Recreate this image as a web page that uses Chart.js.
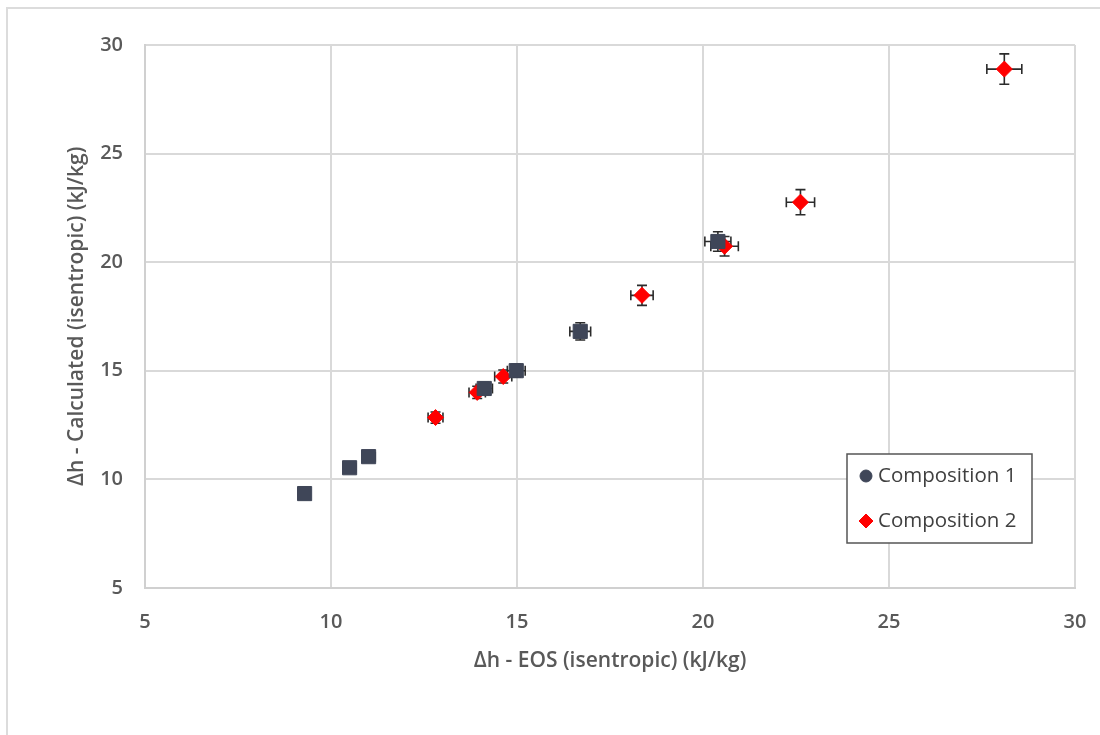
<!DOCTYPE html>
<html>
<head>
<meta charset="utf-8">
<script src="https://cdn.jsdelivr.net/npm/chart.js@4"></script>
<style>
  html, body { margin: 0; padding: 0; background: #fff; overflow: hidden; }
  #wrap { position: relative; width: 1100px; height: 735px; }
  #frame { position: absolute; left: 6px; top: 7px; width: 1200px; height: 800px;
           border: 2px solid #dcdcdc; pointer-events: none; }
</style>
</head>
<body>
<div id="wrap">
  <canvas id="grafico" width="1100" height="735"></canvas>
  <div id="frame"></div>
</div>
<script>
const ctx = document.getElementById('grafico').getContext('2d');

// Composition 1
const comp1X = [9.29, 10.50, 11.01, 14.12, 14.98, 16.70, 20.40];
const comp1Y = [9.34, 10.53, 11.04, 14.18, 15.00, 16.81, 20.95];
const comp1ErrX = [0.15, 0.17, 0.18, 0.22, 0.24, 0.28, 0.35];
const comp1ErrY = [0.19, 0.21, 0.22, 0.28, 0.30, 0.40, 0.45];

// Composition 2
const comp2X = [12.81, 13.93, 14.63, 18.36, 20.58, 22.62, 28.10];
const comp2Y = [12.84, 14.00, 14.73, 18.47, 20.73, 22.76, 28.89];
const comp2ErrX = [0.20, 0.22, 0.23, 0.30, 0.37, 0.38, 0.47];
const comp2ErrY = [0.26, 0.28, 0.30, 0.46, 0.45, 0.58, 0.70];

const eixoMin = 5;
const eixoMax = 30;
const eixoPasso = 5;

const corComp1 = '#3f4658';
const corComp2 = '#ff0000';

function pontos(xs, ys) {
	return xs.map((x, i) => ({x: x, y: ys[i]}));
}

// error bars, drawn behind the markers
const barrasErro = {
	id: 'barrasErro',
	beforeDatasetsDraw(chart) {
		const c = chart.ctx;
		const sx = chart.scales.x, sy = chart.scales.y;
		const cap = 5;
		c.save();
		c.strokeStyle = '#2b2b2b';
		c.lineWidth = 1.6;
		chart.data.datasets.forEach(ds => {
			ds.data.forEach((p, i) => {
				const ex = ds.errX[i], ey = ds.errY[i];
				const x0 = sx.getPixelForValue(p.x - ex), x1 = sx.getPixelForValue(p.x + ex);
				const y0 = sy.getPixelForValue(p.y - ey), y1 = sy.getPixelForValue(p.y + ey);
				const px = sx.getPixelForValue(p.x), py = sy.getPixelForValue(p.y);
				c.beginPath();
				c.moveTo(x0, py); c.lineTo(x1, py);
				c.moveTo(x0, py - cap); c.lineTo(x0, py + cap);
				c.moveTo(x1, py - cap); c.lineTo(x1, py + cap);
				c.moveTo(px, y0); c.lineTo(px, y1);
				c.moveTo(px - cap, y0); c.lineTo(px + cap, y0);
				c.moveTo(px - cap, y1); c.lineTo(px + cap, y1);
				c.stroke();
			});
		});
		c.restore();
	}
};

// legend box inside the plot
const legendaCaixa = {
	id: 'legendaCaixa',
	afterDraw(chart) {
		const c = chart.ctx;
		const bx = 847, by = 454, bw = 185, bh = 89;
		c.save();
		c.fillStyle = '#ffffff';
		c.fillRect(bx, by, bw, bh);
		c.strokeStyle = '#555555';
		c.lineWidth = 1.5;
		c.strokeRect(bx, by, bw, bh);
		const estilos = [{style: 'circle', r: 6}, {style: 'rectRot', r: 7}];
		chart.data.datasets.forEach((ds, i) => {
			const yy = by + 22 + i * 45;
			c.fillStyle = ds.backgroundColor;
			c.strokeStyle = ds.backgroundColor;
			c.lineWidth = 1;
			Chart.helpers.drawPoint(c, {pointStyle: estilos[i].style, radius: estilos[i].r, rotation: 0, borderWidth: 1}, bx + 19, yy);
			c.fillStyle = '#404040';
			c.font = '20.5px "Open Sans"';
			c.textBaseline = 'middle';
			c.textAlign = 'left';
			c.fillText(ds.label, bx + 31, yy);
		});
		c.restore();
	}
};

const fonteTick = {family: '"Open Sans"', size: 20, weight: '600'};
const fonteTitulo = {family: '"Open Sans"', size: 21, weight: '600'};

const grafico = new Chart(ctx, {
	type: 'scatter',
	data: {
		datasets: [
			{
				label: 'Composition 1',
				data: pontos(comp1X, comp1Y),
				errX: comp1ErrX,
				errY: comp1ErrY,
				backgroundColor: corComp1,
				borderColor: corComp1,
				pointStyle: 'rect',
				pointRadius: 10,
				pointHoverRadius: 10,
			},
			{
				label: 'Composition 2',
				data: pontos(comp2X, comp2Y),
				errX: comp2ErrX,
				errY: comp2ErrY,
				backgroundColor: corComp2,
				borderColor: corComp2,
				pointStyle: 'rectRot',
				pointRadius: 8,
				pointHoverRadius: 8,
			}
		]
	},
	options: {
		responsive: false,
		animation: false,
		events: [],
		layout: {padding: {left: 0, top: 45, right: 25, bottom: 61}},
		plugins: {legend: {display: false}, tooltip: {enabled: false}},
		scales: {
			x: {
				type: 'linear',
				min: eixoMin, max: eixoMax,
				ticks: {stepSize: eixoPasso, padding: 22, color: '#595959', font: fonteTick},
				grid: {color: '#d9d9d9', lineWidth: 2, drawTicks: false},
				border: {color: '#d0d0d0', width: 2},
				title: {display: true, text: 'Δh - EOS (isentropic) (kJ/kg)', color: '#595959',
					font: fonteTitulo, padding: {top: -7, bottom: 0}},
				afterFit(scale) { scale.paddingLeft = 0; scale.paddingRight = 0; }
			},
			y: {
				type: 'linear',
				min: eixoMin, max: eixoMax,
				ticks: {stepSize: eixoPasso, padding: 22, color: '#595959', font: fonteTick},
				grid: {color: '#d9d9d9', lineWidth: 2, drawTicks: false},
				border: {color: '#d0d0d0', width: 2},
				title: {display: true, text: 'Δh - Calculated (isentropic) (kJ/kg)', color: '#595959',
					font: fonteTitulo, padding: {top: 64, bottom: 0}},
				afterFit(scale) { scale.width = 145; }
			}
		}
	},
	plugins: [barrasErro, legendaCaixa]
});
</script>
</body>
</html>
